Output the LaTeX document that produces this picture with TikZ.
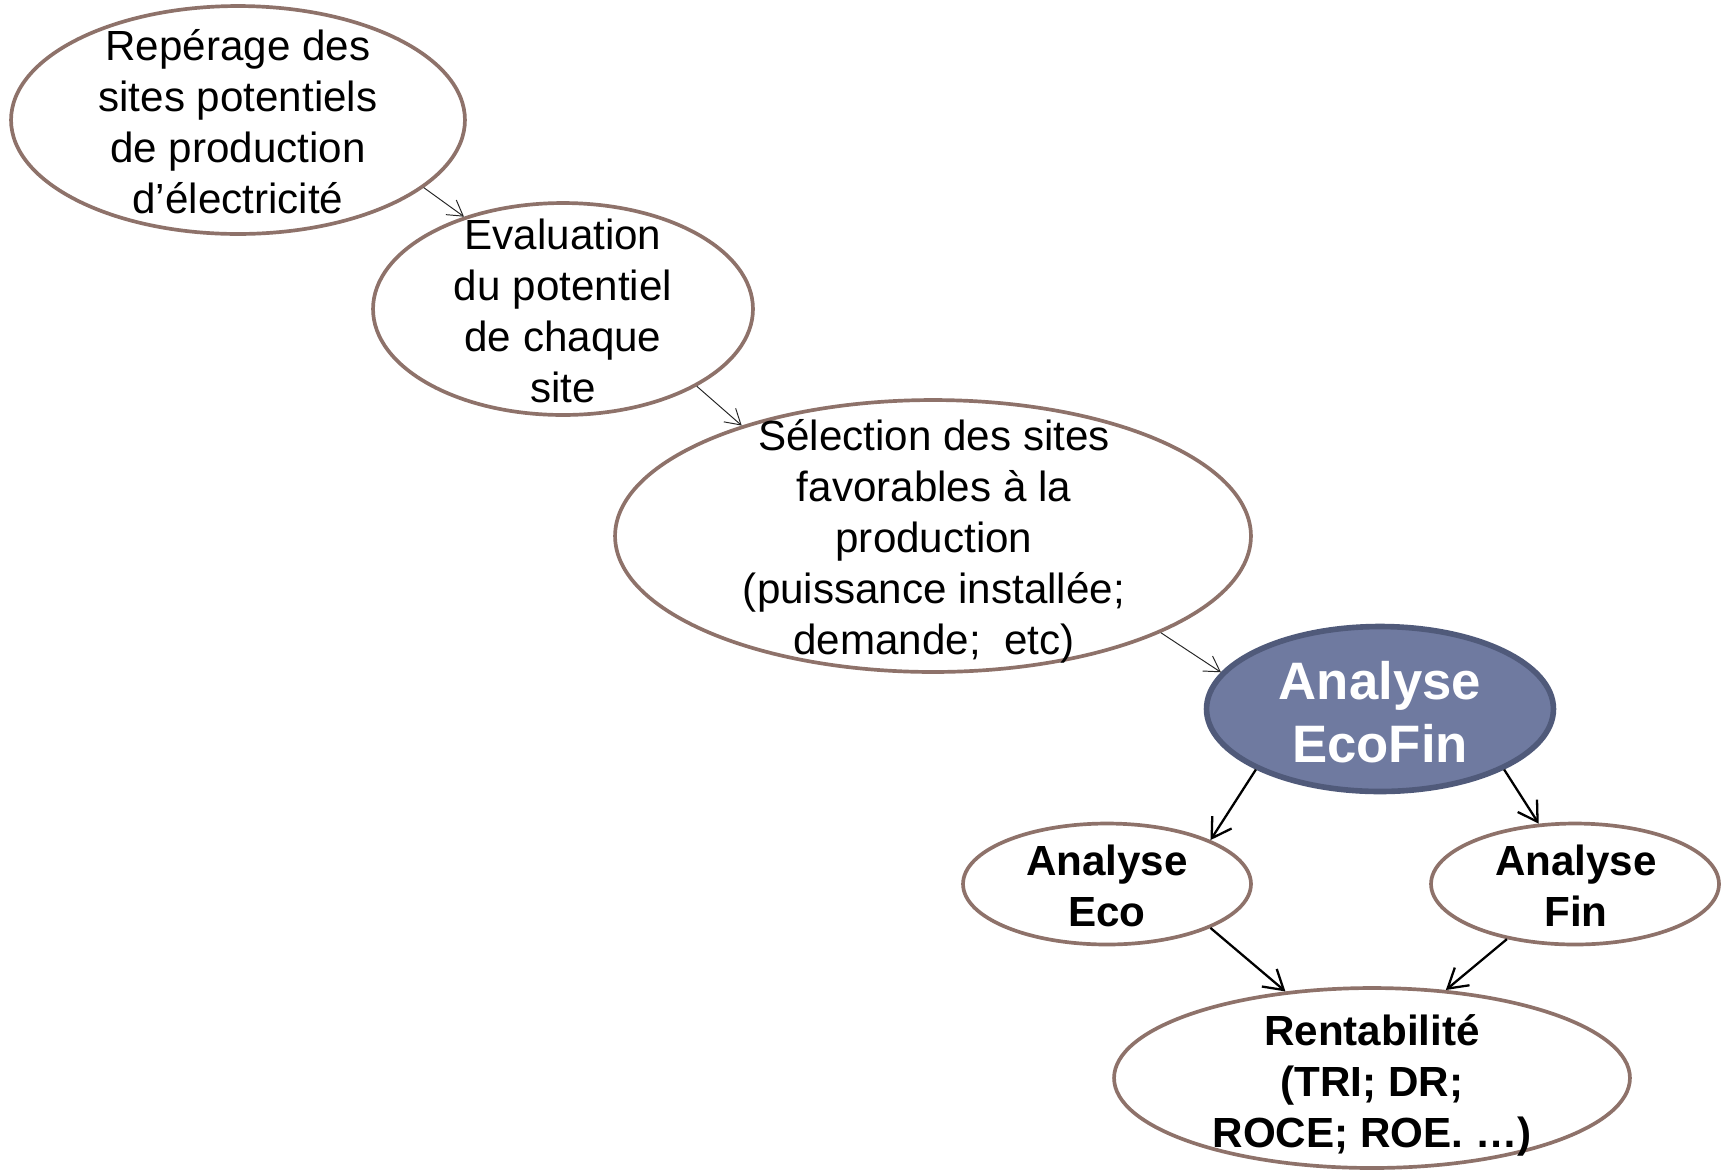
\documentclass[tikz,border=0pt]{standalone}
\usepackage{fontspec}
\setmainfont{Liberation Sans}
\usetikzlibrary{shapes.geometric,arrows.meta}

\definecolor{contour}{RGB}{142,114,106}
\definecolor{bleufond}{RGB}{111,122,160}
\definecolor{bleubord}{RGB}{80,90,122}

\begin{document}
\begin{tikzpicture}[x=0.02cm, y=-0.02cm,
    etape/.style={ellipse, draw=contour, line width=2.1pt, fill=white, inner sep=0pt},
    centrale/.style={ellipse, draw=bleubord, line width=3.2pt, fill=bleufond, inner sep=0pt},
    texte/.style={align=center, inner sep=0pt, font=\fontsize{24}{29}\selectfont},
    gras/.style={texte, font=\fontsize{24}{29}\selectfont\bfseries},
    fin/.style={-{Straight Barb[length=0.3cm, width=0.36cm]}, line width=0.55pt, black!85},
    suite/.style={-{Straight Barb[length=0.38cm, width=0.46cm]}, line width=1.3pt},
    ]
  \useasboundingbox (0,0) rectangle (1724,1171);

  % les ellipses
  \node[etape, minimum width=9.08cm, minimum height=4.56cm] (rep) at (238,120) {};
  \node[etape, minimum width=7.6cm, minimum height=4.24cm] (eval) at (563,309) {};
  \node[etape, minimum width=12.72cm, minimum height=5.44cm] (sel) at (933,536) {};
  \node[centrale, minimum width=6.94cm, minimum height=3.3cm] (ecofin) at (1380,709) {};
  \node[etape, minimum width=5.76cm, minimum height=2.42cm] (eco) at (1107,884) {};
  \node[etape, minimum width=5.76cm, minimum height=2.42cm] (fin) at (1575,884) {};
  \node[etape, minimum width=10.32cm, minimum height=3.6cm] (rent) at (1372,1078) {};

  % les textes
  \node[texte] (repT) at (238,122) {Repérage des\\sites potentiels\\de production\\d’électricité};
  \node[texte] (evalT) at (563,311) {Evaluation\\du potentiel\\de chaque\\site};
  \node[texte] (selT) at (934,541) {Sélection des sites\\favorables à la\\production\\(puissance installée;\\demande;\ \ etc)};
  \node[texte, font=\fontsize{30}{36}\selectfont\bfseries, text=white] (ecofinT) at (1380,712) {Analyse\\EcoFin};
  \node[gras] (ecoT) at (1107,886) {Analyse\\Eco};
  \node[gras] (finT) at (1576,886) {Analyse\\Fin};
  \node[gras] (rentT) at (1372,1085) {Rentabilité\\(TRI; DR;\\ROCE; ROE. …)};

  % les fleches
  \draw[fin] (rep.-20) -- (eval.137);
  \draw[fin] (eval.-30) -- (sel.150);
  \draw[fin] (sel.-23) -- (ecofin.167);
  \draw[suite] (ecofin.-154) -- (eco.23);
  \draw[suite] (ecofin.-26) -- (fin.121);
  \draw[suite] (eco.-23) -- (rent.135);
  \draw[suite] (fin.-141) -- (rent.50);
\end{tikzpicture}
\end{document}
